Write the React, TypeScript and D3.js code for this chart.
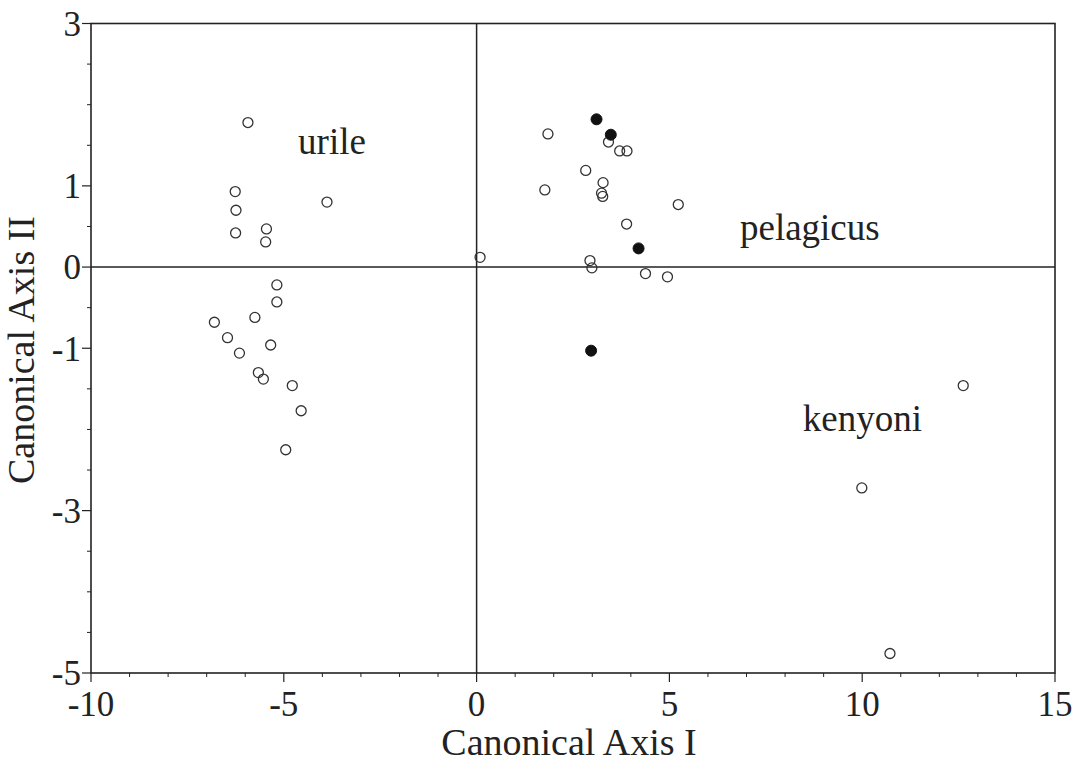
import React from 'react';
import * as d3 from 'd3';

// canonical scores
const urile: [number, number][] = [
  [-5.93, 1.78], [-6.26, 0.93], [-6.24, 0.7], [-6.25, 0.42], [-5.45, 0.47], [-5.47, 0.31],
  [-3.88, 0.8], [-5.18, -0.22], [-5.18, -0.43], [-5.75, -0.62], [-6.8, -0.68], [-6.46, -0.87],
  [-5.34, -0.96], [-6.15, -1.06], [-5.66, -1.3], [-5.53, -1.38], [-4.78, -1.46], [-4.55, -1.77],
  [-4.95, -2.25],
];
const pelagicus: [number, number][] = [
  [1.85, 1.64], [3.42, 1.54], [3.71, 1.43], [3.9, 1.43], [2.83, 1.19], [3.28, 1.04],
  [3.24, 0.91], [3.27, 0.87], [1.77, 0.95], [5.23, 0.77], [3.89, 0.53], [0.09, 0.12],
  [2.94, 0.08], [2.99, -0.01], [4.38, -0.08], [4.95, -0.12],
];
const pelagicusDark: [number, number][] = [
  [3.11, 1.82], [3.48, 1.63], [4.2, 0.23], [2.97, -1.03],
];
const kenyoni: [number, number][] = [
  [12.62, -1.46], [9.99, -2.72], [10.72, -4.76],
];

const xTicks = [-10, -5, 0, 5, 10, 15];
const yTicks = [3, 1, 0, -1, -3, -5];
const groupLabels = [
  { text: 'urile', x: -4.63, y: 1.39 },
  { text: 'pelagicus', x: 6.83, y: 0.33 },
  { text: 'kenyoni', x: 8.46, y: -2.02 },
];

const W = 1087;
const H = 763;
const font = '"Liberation Serif", serif';
const ink = '#222';

export default function App() {
  const x = d3.scaleLinear().domain([-10, 15]).range([91, 1055]);
  const y = d3.scaleLinear().domain([-5, 3]).range([673, 23.5]);

  const xMinor = d3.range(-10, 16, 1).filter((v) => !xTicks.includes(v));
  const yMinor = d3.range(-5, 3.01, 0.5).filter((v) => !yTicks.includes(v));

  return (
    <svg width={W} height={H} style={{ position: 'absolute', left: 0, top: 0, background: '#fff' }}>
      <rect x={0} y={0} width={W} height={H} fill="#fff" />
      {/* frame */}
      <rect x={x(-10)} y={y(3)} width={x(15) - x(-10)} height={y(-5) - y(3)} fill="none" stroke={ink} strokeWidth={1.6} />
      {/* zero lines */}
      <line x1={x(-10)} x2={x(15)} y1={y(0)} y2={y(0)} stroke={ink} strokeWidth={1.5} />
      <line x1={x(0)} x2={x(0)} y1={y(3)} y2={y(-5)} stroke={ink} strokeWidth={1.5} />

      {/* x ticks */}
      {xTicks.map((t) => (
        <g key={'xt' + t}>
          <line x1={x(t)} x2={x(t)} y1={y(-5)} y2={y(-5) + 9} stroke={ink} strokeWidth={1.2} />
          <text x={x(t)} y={716} textAnchor="middle" fontFamily={font} fontSize={35} fill={ink}>{t}</text>
        </g>
      ))}
      {xMinor.map((t) => (
        <line key={'xm' + t} x1={x(t)} x2={x(t)} y1={y(-5)} y2={y(-5) + 4} stroke={ink} strokeWidth={1} />
      ))}

      {/* y ticks */}
      {yTicks.map((t) => (
        <g key={'yt' + t}>
          <line x1={x(-10) - 9} x2={x(-10)} y1={y(t)} y2={y(t)} stroke={ink} strokeWidth={1.2} />
          <text x={81} y={y(t)} dy="0.35em" textAnchor="end" fontFamily={font} fontSize={35} fill={ink}>{t}</text>
        </g>
      ))}
      {yMinor.map((t) => (
        <line key={'ym' + t} x1={x(-10) - 4} x2={x(-10)} y1={y(t)} y2={y(t)} stroke={ink} strokeWidth={1} />
      ))}

      {/* axis titles */}
      <text x={569} y={755} textAnchor="middle" fontFamily={font} fontSize={38} fill={ink}>Canonical Axis I</text>
      <text transform="translate(34,350) rotate(-90)" textAnchor="middle" fontFamily={font} fontSize={38} fill={ink}>Canonical Axis II</text>

      {/* group labels */}
      {groupLabels.map((g) => (
        <text key={g.text} x={x(g.x)} y={y(g.y)} fontFamily={font} fontSize={37} fill={ink}>{g.text}</text>
      ))}

      {/* points */}
      {[...urile, ...pelagicus, ...kenyoni].map((p, i) => (
        <circle key={'o' + i} cx={x(p[0])} cy={y(p[1])} r={5} fill="none" stroke="#333" strokeWidth={1.3} />
      ))}
      {pelagicusDark.map((p, i) => (
        <circle key={'f' + i} cx={x(p[0])} cy={y(p[1])} r={5.5} fill="#111" stroke="#111" strokeWidth={1} />
      ))}
    </svg>
  );
}
